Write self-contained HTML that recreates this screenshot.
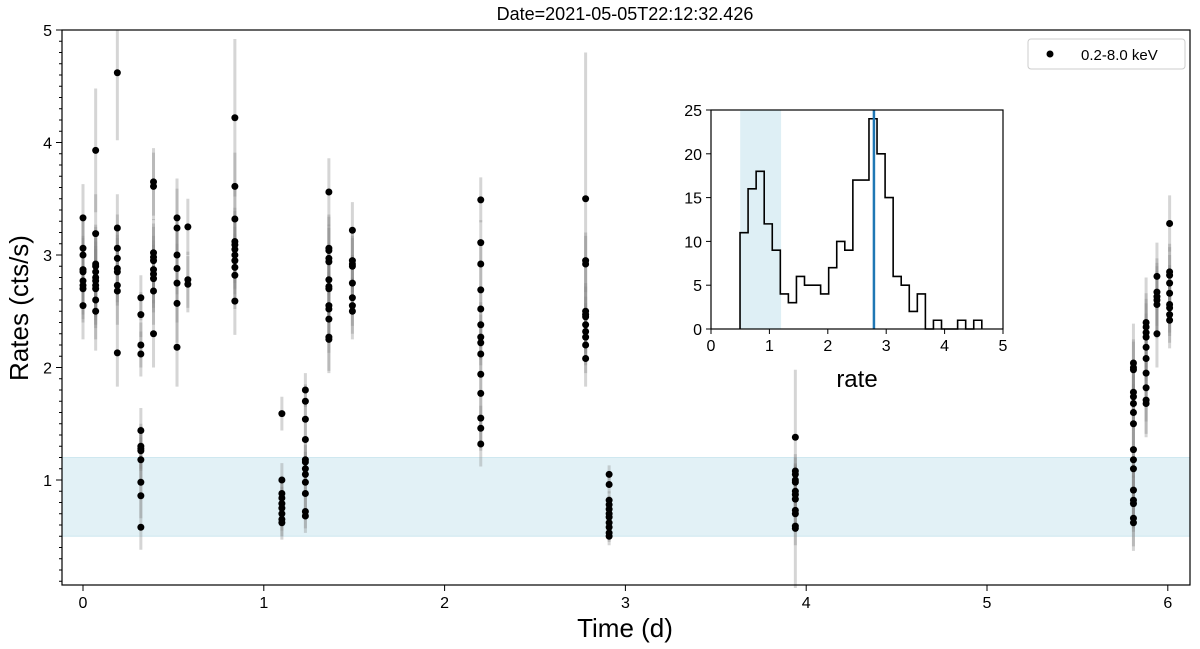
<!DOCTYPE html>
<html><head><meta charset="utf-8"><style>body{margin:0;background:#fff}svg{display:block;font-family:"Liberation Sans","DejaVu Sans",sans-serif}</style></head>
<body>
<svg id="chart" width="1200" height="649" viewBox="0 0 1200 649" xmlns="http://www.w3.org/2000/svg"></svg>
<script>
const groupTimes=[0.0,0.07,0.19,0.32,0.39,0.52,0.58,0.84,1.1,1.23,1.36,1.49,2.2,2.78,2.91,3.94,5.81,5.88,5.94,6.01];
const groupRates=[
[3.33,3.06,3.0,2.87,2.85,2.77,2.73,2.70,2.55],
[3.93,3.19,2.92,2.9,2.85,2.8,2.77,2.73,2.7,2.6,2.5],
[4.62,3.24,3.06,2.97,2.88,2.85,2.73,2.68,2.13],
[2.62,2.47,2.2,2.12,1.44,1.3,1.28,1.26,1.18,0.98,0.86,0.58],
[3.65,3.61,3.02,2.98,2.95,2.87,2.83,2.79,2.68,2.3],
[3.33,3.24,3.0,2.88,2.75,2.57,2.18],
[3.25,2.78,2.74],
[4.22,3.61,3.32,3.12,3.09,3.05,3.0,2.95,2.89,2.82,2.59],
[1.59,1.0,0.88,0.84,0.79,0.75,0.7,0.65,0.62],
[1.8,1.7,1.54,1.36,1.18,1.16,1.1,1.05,0.98,0.88,0.72,0.68],
[3.56,3.06,3.04,2.97,2.94,2.78,2.72,2.7,2.55,2.52,2.43,2.27,2.25],
[3.22,2.95,2.92,2.9,2.75,2.62,2.55,2.5],
[3.49,3.11,2.92,2.69,2.52,2.38,2.27,2.22,2.12,1.94,1.77,1.55,1.46,1.32],
[3.5,2.95,2.92,2.5,2.47,2.45,2.38,2.32,2.27,2.2,2.08],
[1.05,0.96,0.82,0.78,0.74,0.7,0.67,0.62,0.58,0.53,0.5],
[1.38,1.08,1.05,1.0,0.98,0.9,0.87,0.83,0.73,0.7,0.59,0.57],
[2.04,2.0,1.98,1.78,1.74,1.68,1.6,1.5,1.27,1.18,1.1,0.91,0.82,0.79,0.66,0.62],
[2.4,2.36,2.31,2.27,2.18,2.08,1.95,1.82,1.71,1.68],
[2.81,2.67,2.63,2.6,2.56,2.3],
[3.28,2.85,2.82,2.75,2.66,2.56,2.53,2.47,2.42]];
const groupErrs=[0.3,0.35,0.3,0.2,0.3,0.35,0.25,0.3,0.15,0.15,0.3,0.25,0.2,0.25,0.08,0.15,0.25,0.3,0.3,0.25];
const bigErrs=[[2,0,0.6],[1,0,0.55],[7,0,0.7],[13,0,1.3],[15,0,0.6],[15,10,0.55],[16,0,0.35],[17,0,0.4]];
const xTicks=[0,1,2,3,4,5,6];
const yTicks=[1,2,3,4,5];
const histCounts=[11,16,18,12,9,4,3,6,5,5,4,7,10,9,17,17,24,20,15,6,5,2,4,0,1,0,0,1,0,1];
const histStart=0.497, histWidth=0.138;
const medianRate=2.79;
const bandLow=0.5, bandHigh=1.2;
const insetXTicks=[0,1,2,3,4,5];
const insetYTicks=[0,5,10,15,20,25];

const svg=document.getElementById('chart');
const NS='http://www.w3.org/2000/svg';
function mk(tag,attrs,parent,text){const e=document.createElementNS(NS,tag);for(const k in attrs)e.setAttribute(k,attrs[k]);if(text!==undefined)e.textContent=text;(parent||svg).appendChild(e);return e;}
const L=62,R=1190,T=30,B=585;
const X=d=>83+d*180.8;
const Y=r=>592.5-r*112.5;
let g;
let band=mk('rect',{x:L,y:Y(bandHigh),width:R-L,height:Y(bandLow)-Y(bandHigh),fill:'#add8e6','fill-opacity':0.35,stroke:'#add8e6','stroke-opacity':0.5});

g=mk('g',{});
groupTimes.forEach((t,i)=>{groupRates[i].forEach((r,j)=>{let e=groupErrs[i];bigErrs.forEach(b=>{if(b[0]===i&&b[1]===j)e=b[2];});
 const ln=mk('line',{x1:X(t),x2:X(t),y1:Y(r-e),y2:Y(Math.min(r+e,5.2)),stroke:'#888','stroke-opacity':0.35,'stroke-width':3},g);
 });});
g=mk('g',{});
groupTimes.forEach((t,i)=>{groupRates[i].forEach(r=>{const c=mk('circle',{cx:X(t),cy:Y(r),r:3.5,fill:'#000'},g);
 });});
mk('rect',{x:L,y:0,width:R-L,height:T,fill:'#fff'});
let fr=mk('rect',{x:L,y:T,width:R-L,height:B-T,fill:'none',stroke:'#000','stroke-width':1.2});

g=mk('g',{});
xTicks.forEach(v=>{mk('line',{x1:X(v),x2:X(v),y1:B,y2:B+6,stroke:'#000'},g);const t=mk('text',{x:X(v),y:B+23,'font-size':16,'text-anchor':'middle'},g,String(v));});
g=mk('g',{});
for(let k=1;k<=50;k++){const v=k/10;if(Y(v)<T-0.5||Y(v)>B)continue;const major=k%10===0;mk('line',{x1:L,x2:L-(major?6:3),y1:Y(v),y2:Y(v),stroke:'#000'},g);}
yTicks.forEach(v=>{const t=mk('text',{x:L-10,y:Y(v)+6,'font-size':16,'text-anchor':'end'},g,String(v));});
let t=mk('text',{x:625,y:637,'font-size':26,'text-anchor':'middle'},svg,'Time (d)');
t=mk('text',{x:0,y:0,'font-size':26,'text-anchor':'middle',transform:'translate(28,308) rotate(-90)'},svg,'Rates (cts/s)');
t=mk('text',{x:625,y:20,'font-size':18,'text-anchor':'middle'},svg,'Date=2021-05-05T22:12:32.426');
g=mk('g',{});
mk('rect',{x:1028,y:39,width:157,height:30,rx:3,fill:'#fff',stroke:'#ccc'},g);
mk('circle',{cx:1050,cy:54,r:3.5,fill:'#000'},g);
t=mk('text',{x:1081,y:60,'font-size':15},g,'0.2-8.0 keV');
const iL=711,iR=1003,iT=110,iB=329;
const IX=v=>iL+v*(iR-iL)/5, IY=c=>iB-c*(iB-iT)/25;
g=mk('g',{});
mk('rect',{x:iL,y:iT,width:iR-iL,height:iB-iT,fill:'#fff'},g);
let ib=mk('rect',{x:IX(bandLow),y:iT,width:IX(bandHigh)-IX(bandLow),height:iB-iT,fill:'#add8e6','fill-opacity':0.4},g);

let d='M'+IX(histStart)+','+IY(0);
histCounts.forEach((c,i)=>{const x0=IX(histStart+i*histWidth),x1=IX(histStart+(i+1)*histWidth);d+=' L'+x0+','+IY(c)+' L'+x1+','+IY(c);});
d+=' L'+IX(histStart+histCounts.length*histWidth)+','+IY(0);
let hp=mk('path',{d:d,fill:'none',stroke:'#000','stroke-width':1.6},g);
let ml=mk('line',{x1:IX(medianRate),x2:IX(medianRate),y1:iT,y2:iB,stroke:'#1f77b4','stroke-width':2.5},g);
mk('rect',{x:iL,y:iT,width:iR-iL,height:iB-iT,fill:'none',stroke:'#000','stroke-width':1.2},g);
insetXTicks.forEach(v=>{mk('line',{x1:IX(v),x2:IX(v),y1:iB,y2:iB+5,stroke:'#000'},g);const tt=mk('text',{x:IX(v),y:iB+22,'font-size':16,'text-anchor':'middle'},g,String(v));});
insetYTicks.forEach(v=>{mk('line',{x1:iL,x2:iL-5,y1:IY(v),y2:IY(v),stroke:'#000'},g);const tt=mk('text',{x:iL-9,y:IY(v)+6,'font-size':16,'text-anchor':'end'},g,String(v));});
t=mk('text',{x:857,y:387,'font-size':24,'text-anchor':'middle'},g,'rate');
</script>
</body></html>
